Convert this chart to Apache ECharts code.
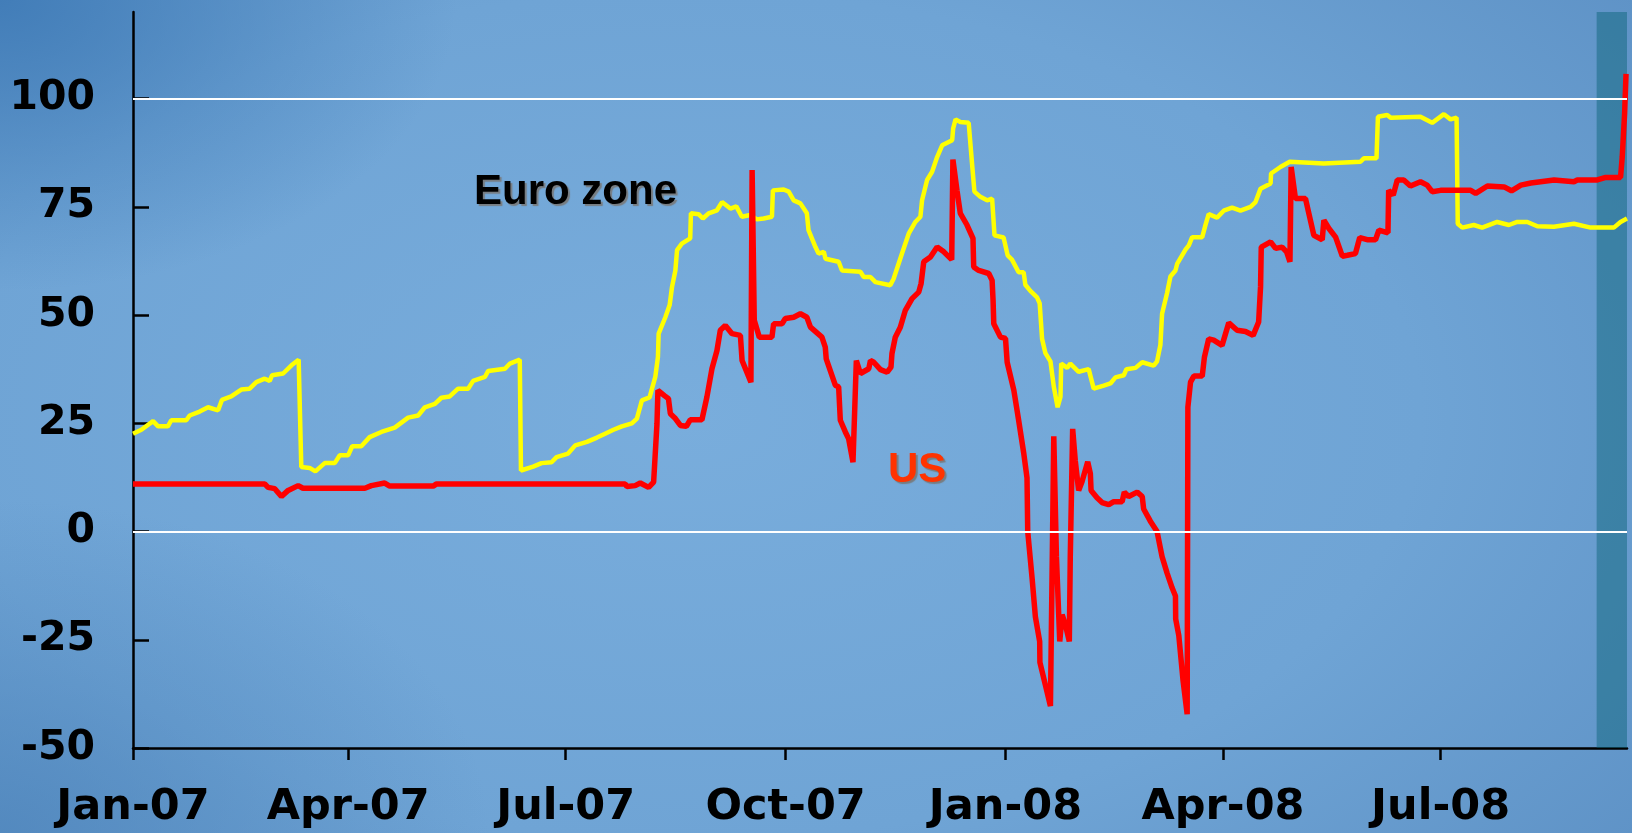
<!DOCTYPE html>
<html>
<head>
<meta charset="utf-8">
<title>Euro zone / US</title>
<script src="https://cdn.jsdelivr.net/npm/echarts@6/dist/echarts.min.js"></script>
<style>
  html, body { margin: 0; padding: 0; }
  body {
    width: 1632px;
    height: 833px;
    overflow: hidden;
    background:
      radial-gradient(ellipse 28% 35% at 0% 0%, rgba(62,122,182,0.9), rgba(62,122,182,0)),
      radial-gradient(ellipse 30% 40% at 0% 100%, rgba(75,130,185,0.7), rgba(75,130,185,0)),
      radial-gradient(ellipse 75% 85% at 42% 50%, #79addc 0%, #6fa4d5 60%, #5e92c6 100%);
  }
  #chart { width: 1632px; height: 833px; }
</style>
</head>
<body>
<div id="chart"></div>
<script>
  // x values are days counted from 1 Jan 2007
  var tickDays = [0, 90, 181, 273, 365, 456, 547];
  var tickLabels = ['Jan-07', 'Apr-07', 'Jul-07', 'Oct-07', 'Jan-08', 'Apr-08', 'Jul-08'];
  var yTicks = [-50, -25, 0, 25, 50, 75, 100];
  var refLevels = [0, 100];
  var shadedFrom = 612.3;
  var lastDay = 625;

  var euroDays = [
    0, 3.5, 8.4, 10.5, 14.6, 16, 22.3, 23.7, 27.9, 31.4,
    35.6, 37.2, 41.1, 45.3, 48.8, 51.6, 55.1, 57.2, 58.2, 62.8,
    66.3, 69.3, 70.4, 73.9, 76.3, 80.2, 84.4, 86.5, 90, 91.7,
    95.5, 99, 103.9, 109.5, 115.1, 119.3, 122.1, 126.3, 129, 132.5,
    136, 140.2, 142.3, 147.2, 148.6, 155.6, 157.7, 161.8, 162.3, 167.4,
    170.9, 175.1, 177.2, 182, 185, 189.9, 194.1, 197.5, 201, 204.5,
    208.7, 210.8, 212.9, 216.1, 218.5, 219.6, 219.9, 222.7, 224.5, 225.5,
    226.9, 227.6, 229.6, 233.1, 233.4, 236.6, 238.4, 240.8, 244.3, 246.4,
    249.9, 252.4, 254.7, 258.2, 261, 263.8, 267.3, 267.7, 272.2, 274.3,
    276.4, 279.2, 281.9, 282.6, 285.5, 286.8, 289, 289.7, 295.2, 296.6,
    304.3, 305.7, 308.5, 310.6, 316.8, 318.2, 321.7, 324.5, 327.3, 329.4,
    330.1, 332.2, 334.3, 336.4, 338.5, 342.7, 343.1, 344.1, 346.1, 349.6,
    351, 352, 354.5, 357.3, 359.4, 360.4, 364.2, 365.9, 367.7, 370.5,
    372.6, 373.3, 375.4, 378.2, 379.3, 380.3, 381.7, 383.8, 385.2, 386.8,
    388, 388.3, 390.8, 392.1, 395.6, 399.8, 401.9, 406.1, 408.9, 411,
    414.5, 415.6, 419.4, 422.2, 427, 428.4, 429.8, 430.5, 432.6, 434,
    436.1, 436.8, 440.3, 441.7, 443.1, 447.3, 448.7, 450, 453.5, 456.3,
    459.8, 463.3, 467.5, 469.6, 471.7, 475.9, 476.1, 480, 483.9, 498.1,
    513.5, 514.9, 520.2, 520.8, 524.7, 526.1, 538.6, 543.5, 548.4, 551.2,
    553.7, 554.2, 556.1, 560.9, 564.4, 570.7, 575.6, 579.1, 583.3, 587.5,
    594.4, 602.8, 609.8, 619.5, 622.3, 625
  ];
  var euroValues = [
    22.6, 23.5, 25.5, 24.3, 24.3, 25.7, 25.7, 26.8, 27.7, 28.7,
    28, 30.4, 31.2, 32.8, 33, 34.5, 35.3, 34.8, 36.1, 36.5,
    38.4, 39.7, 14.9, 14.7, 13.9, 15.8, 15.8, 17.6, 17.6, 19.7,
    19.7, 21.8, 23, 24, 26.3, 26.8, 28.7, 29.5, 30.9, 31.2,
    33, 33, 34.8, 35.7, 37.1, 37.6, 38.8, 39.7, 14.1, 15,
    15.8, 16, 17.2, 18, 19.9, 20.7, 21.7, 22.6, 23.5, 24.3,
    25, 26.1, 30.3, 31, 35.7, 40.3, 45.7, 49.5, 52.3, 56.5,
    60.3, 65, 66.5, 67.7, 73.5, 73.3, 72.3, 73.5, 74.2, 76.1,
    74.6, 75.1, 72.7, 73.1, 72.1, 72.3, 72.7, 78.8, 79, 78.5,
    76.5, 75.8, 73.5, 69.6, 65.7, 64.2, 64.6, 63, 62.3, 60.3,
    60, 58.8, 58.8, 57.6, 56.9, 58.4, 64.2, 68.8, 71.5, 72.7,
    76.5, 81.2, 83.1, 86.5, 89.2, 90.4, 93.1, 95.2, 94.6, 94.4,
    85, 78.5, 77.3, 76.5, 76.9, 68.4, 67.9, 63.8, 62.8, 59.9,
    59.9, 57, 55.6, 54.1, 52.7, 44.5, 41.2, 39.3, 33.5, 28.7,
    31.1, 38.8, 37.8, 38.8, 36.9, 37.5, 33, 33.7, 34.2, 35.6,
    36.1, 37.5, 37.8, 39.1, 38.3, 39.3, 43.1, 50.3, 55.1, 58.9,
    60.3, 61.8, 65.1, 66.1, 68, 68, 70.9, 73.3, 72.5, 74.1,
    74.8, 74.1, 75, 76.1, 79.2, 80.4, 82.7, 84.2, 85.4, 85,
    85.4, 86.2, 86.2, 95.8, 96.2, 95.6, 95.8, 94.4, 96.4, 95.2,
    95.6, 71.1, 70.2, 70.8, 70.2, 71.5, 70.8, 71.5, 71.5, 70.5,
    70.4, 71.1, 70.2, 70.2, 71.5, 72.3
  ];

  var usDays = [
    0, 55.1, 56.5, 59.3, 62.1, 64.9, 69.1, 71.1, 97, 99.7,
    105.3, 107.4, 125.6, 127, 205.9, 206.6, 210.1, 212.2, 215.7, 217.8,
    219.2, 219.6, 222.3, 224, 224.8, 226.9, 229, 231.5, 233.1, 238,
    240.1, 242.2, 244.3, 245.7, 247.8, 250.6, 254.1, 254.8, 258.5, 259,
    259.9, 262, 267.3, 268, 271.5, 272.9, 276.4, 279.2, 281.9, 283.4,
    288.2, 289.6, 290, 293.8, 295.2, 295.9, 298, 299.4, 301.2, 302.6,
    304.3, 307.8, 308.5, 309.9, 312.7, 315.5, 317.1, 317.5, 318.9, 321,
    323.1, 325.9, 328.7, 329.7, 330.8, 333.6, 336.4, 339.2, 342.5, 343,
    344.7, 346.1, 348.9, 351.4, 351.7, 353.8, 358, 359.4, 359.8, 360.1,
    362.9, 365, 365.7, 368.5, 370.5, 372.6, 374, 374.3, 376.1, 377.5,
    379.3, 379.4, 381.7, 383.8, 385.2, 386.3, 387.7, 388.7, 390.1, 391.7,
    392.1, 393.1, 394.2, 395.6, 397, 399.4, 400.5, 400.8, 403.3, 405.4,
    408.2, 410.3, 413.8, 414.7, 416.5, 420.1, 422.2, 422.8, 425.6, 428.4,
    430.5, 432.6, 434.7, 436.1, 436.2, 437.5, 439.3, 441, 441.3, 442.4,
    443.8, 447.3, 448.2, 450, 452.1, 455.6, 458.4, 461.9, 465.4, 468.6,
    470.9, 471.7, 472, 475.9, 478, 480.7, 482.6, 484, 484.5, 486.3,
    490.5, 491.9, 494, 497.5, 498.2, 500.3, 503.1, 505.9, 508, 511.4,
    513.2, 516.3, 519.8, 521.2, 525, 525.3, 527.2, 528.9, 531.6, 534.4,
    538.6, 541.4, 543.5, 547, 559.6, 561.7, 566.6, 573.6, 576.7, 580.6,
    584.8, 594.5, 602.8, 604.2, 612.6, 616.1, 622.3, 623, 624, 624.6
  ];
  var usValues = [
    11, 11, 10.2, 9.9, 8.1, 9.5, 10.6, 10, 10, 10.6,
    11.2, 10.5, 10.5, 11, 11, 10.4, 10.6, 11.2, 10.2, 11.4,
    24.9, 32.6, 31.4, 30.7, 27.2, 26.1, 24.5, 24.3, 25.8, 25.8,
    31.1, 37.6, 41.8, 46.5, 47.6, 45.7, 45.3, 39.5, 34.5, 83.5,
    48.8, 44.9, 44.9, 48, 48, 49.2, 49.5, 50.3, 49.5, 47.2,
    44.9, 42.6, 39.9, 33.8, 33.4, 25.7, 23, 21.4, 16, 39.5,
    36.5, 37.6, 39.5, 39.1, 37.4, 36.8, 38, 41.1, 44.9, 47.2,
    51.1, 53.8, 55.3, 57.3, 62.3, 63.4, 65.7, 64.6, 62.8, 85.9,
    78.8, 73.5, 70.8, 67.7, 61.1, 60.3, 59.6, 58, 53.4, 48,
    44.9, 44.6, 39.1, 32.6, 25.7, 18.2, 12.4, 0, -10.6, -19.7,
    -25.4, -30.2, -35.5, -40.3, 22, -5.8, -25.4, -19.2, -21.6, -25.4,
    -5.8, 23.7, 16.3, 9.5, 11.5, 16.1, 13.4, 9.5, 7.8, 6.7,
    6.2, 6.9, 6.9, 9.1, 8.1, 9.1, 8.1, 5.2, 2.4, 0,
    -5.8, -9.6, -13, -14.9, -20.2, -24, -34.5, -42.2, 28.7, 34.5,
    35.9, 35.9, 40.2, 44.5, 44.2, 43, 48.2, 46.5, 46.2, 45.3,
    48.4, 56.5, 65.7, 66.9, 65.4, 65.7, 64.6, 62.3, 84.2, 76.9,
    76.9, 73.5, 68.4, 67.4, 71.9, 70, 68, 63.6, 63.8, 64.2,
    67.9, 67.4, 67.4, 69.6, 69, 78.8, 77.7, 81.2, 81.2, 79.8,
    80.8, 80, 78.5, 78.8, 78.8, 78.1, 79.8, 79.6, 78.7, 80,
    80.5, 81.2, 80.8, 81.2, 81.2, 81.8, 81.8, 86.5, 96.6, 105.7
  ];

  function pairs(xs, ys) {
    return xs.map(function (x, i) { return [x, ys[i]]; });
  }

  var axisFont = '"DejaVu Sans", Verdana, sans-serif';
  var labelFont = '"Liberation Sans", Arial, sans-serif';

  var myChart = echarts.init(document.getElementById('chart'));

  var option = {
    backgroundColor: 'transparent',
    animation: false,
    grid: { left: 133, right: 5, top: 12, bottom: 85 },
    xAxis: {
      type: 'value',
      min: 0,
      max: lastDay,
      axisLine: { onZero: false, lineStyle: { color: '#000', width: 2.5 } },
      axisTick: {
        customValues: tickDays,
        length: 12,
        lineStyle: { color: '#000', width: 2.5 }
      },
      axisLabel: {
        customValues: tickDays,
        formatter: function (v) { return tickLabels[tickDays.indexOf(v)]; },
        margin: 38,
        color: '#000',
        fontFamily: axisFont,
        fontWeight: 'bold',
        fontSize: 43
      },
      splitLine: { show: false }
    },
    yAxis: {
      type: 'value',
      min: -50,
      max: 120,
      interval: 25,
      axisLine: { show: true, onZero: false, lineStyle: { color: '#000', width: 2.5 } },
      axisTick: {
        show: true,
        inside: true,
        customValues: yTicks,
        length: 16,
        lineStyle: { color: '#000', width: 2.5 }
      },
      axisLabel: {
        customValues: yTicks,
        margin: 38,
        color: '#000',
        fontFamily: axisFont,
        fontWeight: 'bold',
        fontSize: 41
      },
      splitLine: { show: false }
    },
    graphic: [
      {
        type: 'text',
        x: 474,
        y: 192,
        style: {
          text: 'Euro zone',
          font: 'bold 42px ' + labelFont,
          fill: '#000',
          align: 'left',
          verticalAlign: 'middle',
          textShadowColor: 'rgba(120,120,120,0.9)',
          textShadowOffsetX: 2,
          textShadowOffsetY: 2,
          textShadowBlur: 1
        }
      },
      {
        type: 'text',
        x: 888,
        y: 470,
        style: {
          text: 'US',
          font: 'bold 42px ' + labelFont,
          fill: '#ff3300',
          align: 'left',
          verticalAlign: 'middle',
          textShadowColor: 'rgba(120,120,120,0.9)',
          textShadowOffsetX: 2,
          textShadowOffsetY: 2,
          textShadowBlur: 1
        }
      }
    ],
    series: [
      {
        // white reference lines
        type: 'line',
        data: [],
        z: 1,
        markLine: {
          silent: true,
          symbol: 'none',
          label: { show: false },
          lineStyle: { color: '#ffffff', width: 2, type: 'solid' },
          data: refLevels.map(function (v) { return { yAxis: v }; })
        }
      },
      {
        name: 'Euro zone',
        type: 'line',
        data: pairs(euroDays, euroValues),
        showSymbol: false,
        z: 3,
        lineStyle: { color: '#ffff00', width: 4.5 },
        itemStyle: { color: '#ffff00' }
      },
      {
        name: 'US',
        type: 'line',
        data: pairs(usDays, usValues),
        showSymbol: false,
        z: 4,
        lineStyle: { color: '#ff0000', width: 5.5 },
        itemStyle: { color: '#ff0000' }
      },
      {
        // shaded latest period, on its own layer so it dims the lines below
        type: 'line',
        data: [],
        zlevel: 1,
        z: 10,
        markArea: {
          silent: true,
          itemStyle: { color: 'rgba(0,92,110,0.42)' },
          data: [[{ xAxis: shadedFrom }, { xAxis: lastDay }]]
        }
      }
    ]
  };

  myChart.setOption(option);
</script>
</body>
</html>
